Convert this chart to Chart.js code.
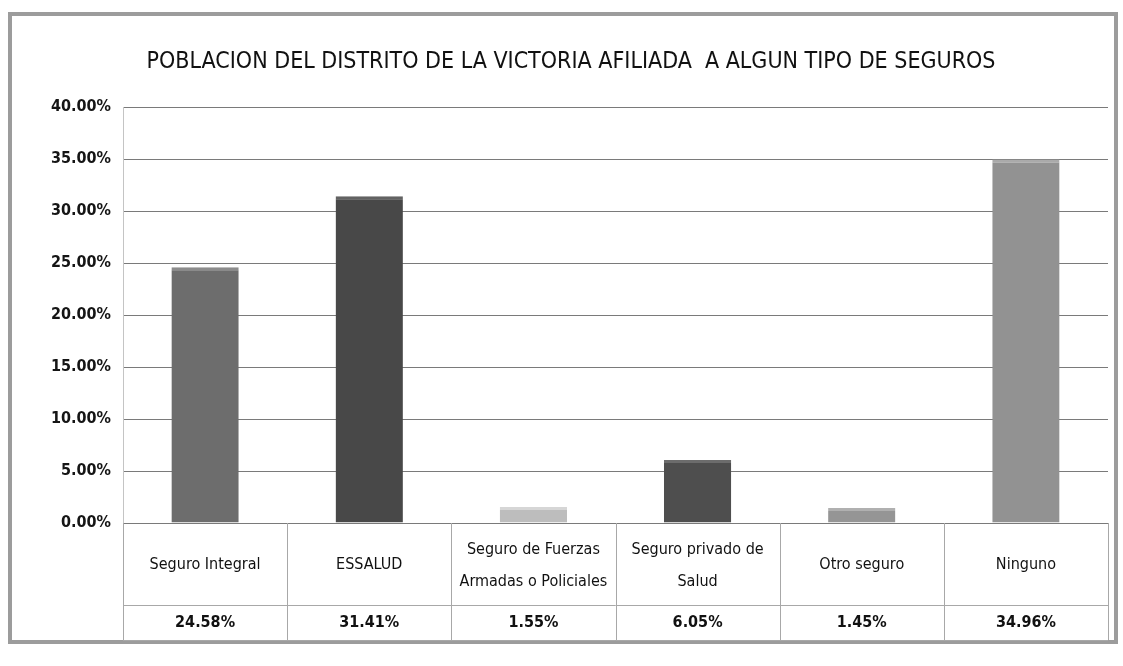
<!DOCTYPE html>
<html>
<head>
<meta charset="utf-8">
<script src="https://cdn.jsdelivr.net/npm/chart.js@4.4.1/dist/chart.umd.min.js"></script>
<style>
  html, body { margin: 0; padding: 0; background: #ffffff; }
  #wrap { width: 1123px; height: 666px; }
</style>
</head>
<body>
<div id="wrap"><canvas id="c" width="1123" height="666"></canvas></div>
<script>
const TITLE = 'POBLACION DEL DISTRITO DE LA VICTORIA AFILIADA  A ALGUN TIPO DE SEGUROS';
const categories = ['Seguro Integral', 'ESSALUD', 'Seguro de Fuerzas Armadas o Policiales', 'Seguro privado de Salud', 'Otro seguro', 'Ninguno'];
const categoryLines = [['Seguro Integral'], ['ESSALUD'], ['Seguro de Fuerzas', 'Armadas o Policiales'], ['Seguro privado de', 'Salud'], ['Otro seguro'], ['Ninguno']];
const values = [24.58, 31.41, 1.55, 6.05, 1.45, 34.96];
const valueLabels = ['24.58%', '31.41%', '1.55%', '6.05%', '1.45%', '34.96%'];
const barColors = ['#6d6d6d', '#484848', '#bdbdbd', '#4e4e4e', '#959595', '#929292'];
const capColors = ['#8c8c8c', '#626262', '#d6d6d6', '#6c6c6c', '#b0b0b0', '#aaaaaa'];

const FONT = "'DejaVu Sans Condensed', 'Liberation Sans Narrow', 'DejaVu Sans', sans-serif";

const framePlugin = {
  id: 'frame',
  beforeDraw(chart) {
    const ctx = chart.ctx;
    ctx.save();
    ctx.fillStyle = '#ffffff';
    ctx.fillRect(0, 0, chart.width, chart.height);
    ctx.strokeStyle = '#9c9c9c';
    ctx.lineWidth = 4;
    ctx.strokeRect(10, 14, 1106, 628);
    ctx.fillStyle = '#111';
    ctx.font = '23px ' + FONT;
    ctx.textAlign = 'center';
    ctx.textBaseline = 'middle';
    ctx.fillText(TITLE, 571, 62);
    ctx.restore();
  }
};

const tablePlugin = {
  id: 'table',
  afterDraw(chart) {
    const ctx = chart.ctx;
    const area = chart.chartArea;
    const xs = chart.scales.x;
    const n = categories.length;
    const w = (area.right - area.left) / n;
    const y0 = area.bottom, y1 = 605, y2 = 640;
    ctx.save();
    ctx.strokeStyle = '#a8a8a8';
    ctx.lineWidth = 1;
    ctx.beginPath();
    for (let i = 0; i <= n; i++) {
      const x = Math.round(area.left + i * w) + 0.5;
      ctx.moveTo(x, y0);
      ctx.lineTo(x, y2);
    }
    ctx.moveTo(area.left, y1 + 0.5); ctx.lineTo(area.right, y1 + 0.5);
    ctx.moveTo(area.left, y2 + 0.5); ctx.lineTo(area.right, y2 + 0.5);
    ctx.stroke();
    ctx.fillStyle = '#111';
    ctx.textAlign = 'center';
    ctx.textBaseline = 'middle';
    for (let i = 0; i < n; i++) {
      const cx = xs.getPixelForValue(i);
      const lines = categoryLines[i];
      ctx.font = '16px ' + FONT;
      if (lines.length === 1) {
        ctx.fillText(lines[0], cx, 565);
      } else {
        ctx.fillText(lines[0], cx, 550);
        ctx.fillText(lines[1], cx, 582);
      }
      ctx.font = 'bold 16px ' + FONT;
      ctx.fillText(valueLabels[i], cx, 623);
    }
    ctx.restore();
  }
};

new Chart(document.getElementById('c'), {
  type: 'bar',
  data: {
    labels: categories,
    datasets: [{
      data: values,
      backgroundColor: barColors,
      borderColor: capColors,
      borderWidth: { top: 3, left: 0, right: 0, bottom: 0 },
      borderSkipped: false,
      barPercentage: 0.82,
      categoryPercentage: 0.5
    }]
  },
  options: {
    responsive: false,
    animation: false,
    devicePixelRatio: 1,
    layout: { padding: { top: 107, left: 0, right: 15, bottom: 143 } },
    plugins: {
      legend: { display: false },
      title: { display: false },
      tooltip: { enabled: false }
    },
    scales: {
      x: {
        display: false,
        grid: { display: false }
      },
      y: {
        min: 0,
        max: 40,
        afterFit(scale) { scale.width = 123; },
        ticks: {
          stepSize: 5,
          padding: 12,
          color: '#151515',
          font: { family: FONT, size: 16, weight: 'bold' },
          callback: (v) => v.toFixed(2) + '%'
        },
        grid: { color: '#7a7a7a', lineWidth: 1, drawTicks: false },
        border: { display: true, color: '#c4c4c4' }
      }
    }
  },
  plugins: [framePlugin, tablePlugin]
});
</script>
</body>
</html>
